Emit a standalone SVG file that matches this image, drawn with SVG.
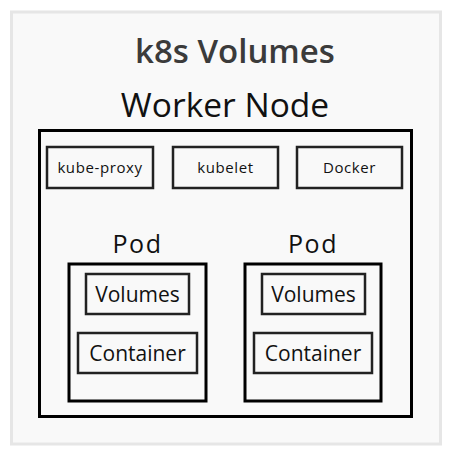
<svg xmlns="http://www.w3.org/2000/svg" width="452" height="457" viewBox="0 0 452 457">
<style>
text{font-family:"Open Sans","Noto Sans","Liberation Sans",sans-serif;text-anchor:middle;fill:#111}
.thick{fill:none;stroke:#000;stroke-width:3}
.box{fill:none;stroke:#222;stroke-width:2.5}
.sm{font-size:15px;letter-spacing:0.6px}
.md{font-size:21px}
.pod{font-size:25px;letter-spacing:1.5px}
</style>
<rect x="0" y="0" width="452" height="457" fill="#ffffff"/>
<rect x="11.5" y="12" width="429" height="432" fill="#f9f9f9" stroke="#e6e6e6" stroke-width="3"/>
<text x="235" y="63" style="font-size:33px;font-weight:600;fill:#3b3b3b">k8s Volumes</text>
<g id="worker-node">
<text x="225" y="117" style="font-size:33.5px">Worker Node</text>
<rect class="thick" x="39.5" y="130.5" width="372" height="286"/>
</g>
<g id="kube-proxy"><rect class="box" x="47" y="147" width="106" height="41"/><text class="sm" x="100" y="173">kube-proxy</text></g>
<g id="kubelet"><rect class="box" x="173" y="147" width="105" height="41"/><text class="sm" x="225.5" y="173">kubelet</text></g>
<g id="docker"><rect class="box" x="297" y="147" width="105" height="41"/><text class="sm" x="349.5" y="173">Docker</text></g>
<g id="pod1">
<text class="pod" x="137.5" y="253">Pod</text>
<rect class="thick" x="69" y="264" width="137" height="137"/>
</g>
<g id="volumes1"><rect class="box" x="86" y="274" width="103" height="40"/><text class="md" x="137.5" y="302">Volumes</text></g>
<g id="container1"><rect class="box" x="78" y="333" width="119" height="40"/><text class="md" x="137.5" y="361">Container</text></g>
<g id="pod2">
<text class="pod" x="313" y="253">Pod</text>
<rect class="thick" x="245" y="264" width="136" height="137"/>
</g>
<g id="volumes2"><rect class="box" x="262" y="274" width="103" height="40"/><text class="md" x="313.5" y="302">Volumes</text></g>
<g id="container2"><rect class="box" x="254" y="333" width="118" height="40"/><text class="md" x="313" y="361">Container</text></g>
<g id="connectors"/>
</svg>
